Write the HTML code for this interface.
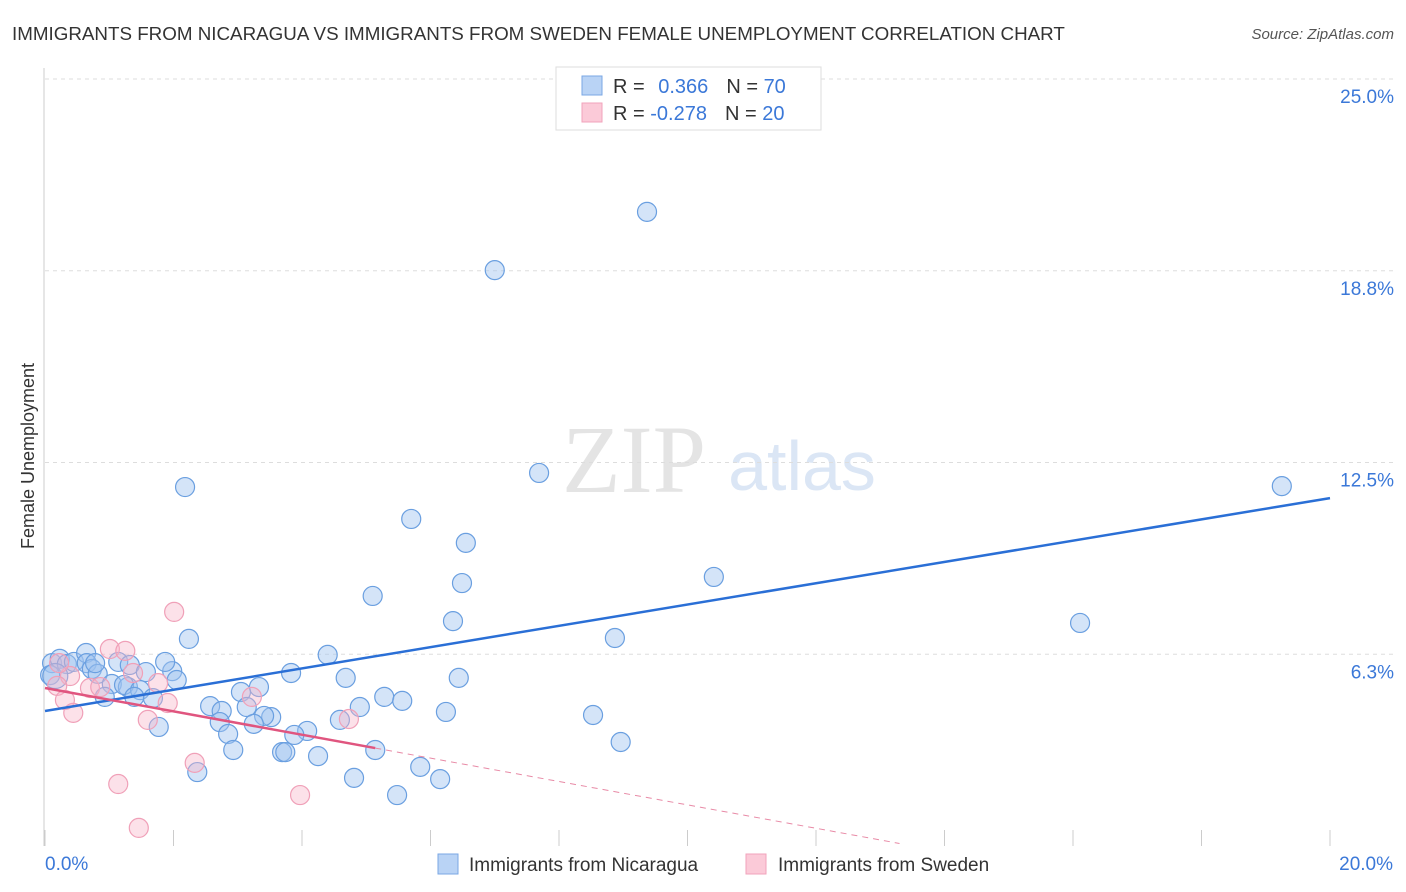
<!DOCTYPE html>
<html><head><meta charset="utf-8"><style>
body{margin:0;background:#fff;font-family:"Liberation Sans",sans-serif;}
svg{display:block}
</style></head><body>
<svg width="1406" height="892" id="chart">
<text x="12" y="40" font-size="18.8" fill="#333">IMMIGRANTS FROM NICARAGUA VS IMMIGRANTS FROM SWEDEN FEMALE UNEMPLOYMENT CORRELATION CHART</text>
<text x="1394" y="39" font-size="15" fill="#555" font-style="italic" text-anchor="end">Source: ZipAtlas.com</text>
<text x="634" y="492" font-size="96" fill="#e4e4e4" font-family="Liberation Serif" text-anchor="middle">ZIP</text>
<text x="802" y="490" font-size="70" fill="#dbe6f5" text-anchor="middle">atlas</text>
<text transform="translate(34,456) rotate(-90)" font-size="18" fill="#333" text-anchor="middle">Female Unemployment</text>
<g id="grid"></g><g id="pts"></g><g id="trends"></g>
<g>
<rect x="556" y="67" width="265" height="63" fill="#fff" stroke="#ddd"/>
<rect x="582" y="76" width="20" height="19" fill="#b9d3f5" stroke="#7aa7e4"/>
<rect x="582" y="103" width="20" height="19" fill="#fbcad8" stroke="#f2a3bb"/>
<text x="613" y="93" font-size="20" fill="#333">R = <tspan fill="#3b78d8" dx="8">0.366</tspan><tspan dx="18">N = </tspan><tspan fill="#3b78d8">70</tspan></text>
<text x="613" y="120" font-size="20" fill="#333">R = <tspan fill="#3b78d8">-0.278</tspan><tspan dx="18">N = </tspan><tspan fill="#3b78d8">20</tspan></text>
</g>
<g>
<rect x="438" y="854" width="20" height="20" fill="#b9d3f5" stroke="#7aa7e4"/>
<text x="469" y="871" font-size="19" fill="#333">Immigrants from Nicaragua</text>
<rect x="746" y="854" width="20" height="20" fill="#fbcad8" stroke="#f2a3bb"/>
<text x="778" y="871" font-size="19" fill="#333">Immigrants from Sweden</text>
</g>
</svg>
<script>
const yTicks=[25,18.75,12.5,6.25];
const yTickLabels=["25.0%","18.8%","12.5%","6.3%"];
const xTickLabels=["0.0%","20.0%"];
const blueX=[9.37,7.00,2.18,7.69,19.25,5.70,6.55,6.49,10.41,5.10,6.35,16.11,2.24,8.87,4.40,3.83,4.68,6.44,3.33,3.05,5.28,5.56,4.90,6.24,2.57,2.75,3.14,8.53,2.72,3.52,3.41,3.25,4.59,4.08,3.88,2.85,1.77,8.96,2.93,3.69,3.74,4.25,5.14,5.84,2.37,4.81,6.15,5.48,0.11,0.23,0.34,0.45,0.64,0.65,0.73,0.82,0.78,1.14,1.04,1.32,1.57,1.29,1.98,1.87,2.05,1.23,0.93,1.48,1.68,1.39,0.08,0.16];
const blueY=[20.67,18.77,11.70,12.16,11.73,10.66,9.88,8.57,8.77,8.15,7.33,7.27,6.75,6.78,6.23,5.64,5.48,5.48,5.18,5.02,4.86,4.73,4.53,4.37,4.56,4.40,4.53,4.27,4.04,4.20,4.24,3.98,4.11,3.75,3.62,3.65,3.88,3.39,3.13,3.06,3.06,2.93,3.13,2.58,2.41,2.22,2.18,1.66,5.96,6.10,5.93,6.00,6.29,5.96,5.77,5.61,5.96,6.00,5.28,5.90,5.67,5.18,5.70,6.00,5.41,5.25,4.86,5.08,4.82,4.86,5.57,5.54];
const pinkX=[2.01,1.01,1.25,0.39,0.22,0.19,0.31,0.44,0.70,0.86,1.37,1.76,1.91,1.60,3.22,4.73,2.33,1.14,3.97,1.46];
const pinkY=[7.63,6.42,6.36,5.54,5.96,5.22,4.76,4.34,5.15,5.18,5.64,5.31,4.66,4.11,4.86,4.14,2.71,2.02,1.66,0.59];
const blueTrend=[4.40,11.34];
const pinkTrend=[5.15,-0.381,5.14,13.3];
const NS="http://www.w3.org/2000/svg";
const X=v=>45+v/20*1285, Y=v=>846-v/25*767;
function mk(t,a,p){const e=document.createElementNS(NS,t);for(const k in a)e.setAttribute(k,a[k]);document.getElementById(p).appendChild(e);return e;}
yTicks.forEach((t,i)=>{
 const g=mk('line',{x1:45,x2:1395,y1:Y(t),y2:Y(t),stroke:'#ddd','stroke-dasharray':'4,4'},'grid');
 
 
 const l=mk('text',{x:1394,y:Y(t)+24,'font-size':19,fill:'#3b78d8','text-anchor':'end'},'grid');l.textContent=yTickLabels[i];
 
 
});
const ax=mk('line',{x1:44,x2:44,y1:68,y2:846,stroke:'#ccc'},'grid');


for(let i=0;i<=10;i++){const t=mk('line',{x1:X(i*2),x2:X(i*2),y1:830,y2:846,stroke:'#ccc'},'grid');
 
 }
[[45,'start',0],[1393,'end',1]].forEach(a=>{const t=mk('text',{x:a[0],y:870,'font-size':19,fill:'#3b78d8','text-anchor':a[1]},'grid');t.textContent=xTickLabels[a[2]];
 
 });
blueX.forEach((x,i)=>{const c=mk('circle',{cx:X(x),cy:Y(blueY[i]),r:i===blueX.length-1?12.5:9.5,fill:'rgba(160,196,240,0.45)',stroke:'#6a9fe0','stroke-width':1.2},'pts');
 
 });
pinkX.forEach((x,i)=>{const c=mk('circle',{cx:X(x),cy:Y(pinkY[i]),r:9.5,fill:'rgba(248,180,200,0.4)',stroke:'#f0a0b8','stroke-width':1.2},'pts');
 
 });
const bl=mk('line',{x1:X(0),y1:Y(blueTrend[0]),x2:X(20),y2:Y(blueTrend[1]),stroke:'#2a6fd6','stroke-width':2.5},'trends');


const pf=x=>pinkTrend[0]+pinkTrend[1]*x;
const pl=mk('line',{x1:X(0),y1:Y(pf(0)),x2:X(pinkTrend[2]),y2:Y(pf(pinkTrend[2])),stroke:'#e0557f','stroke-width':2.5},'trends');


const pd=mk('line',{x1:X(pinkTrend[2]),y1:Y(pf(pinkTrend[2])),x2:X(pinkTrend[3]),y2:Y(Math.max(0,pf(pinkTrend[3]))),stroke:'#e88aa6','stroke-width':1,'stroke-dasharray':'6,5'},'trends');


</script>
</body></html>
